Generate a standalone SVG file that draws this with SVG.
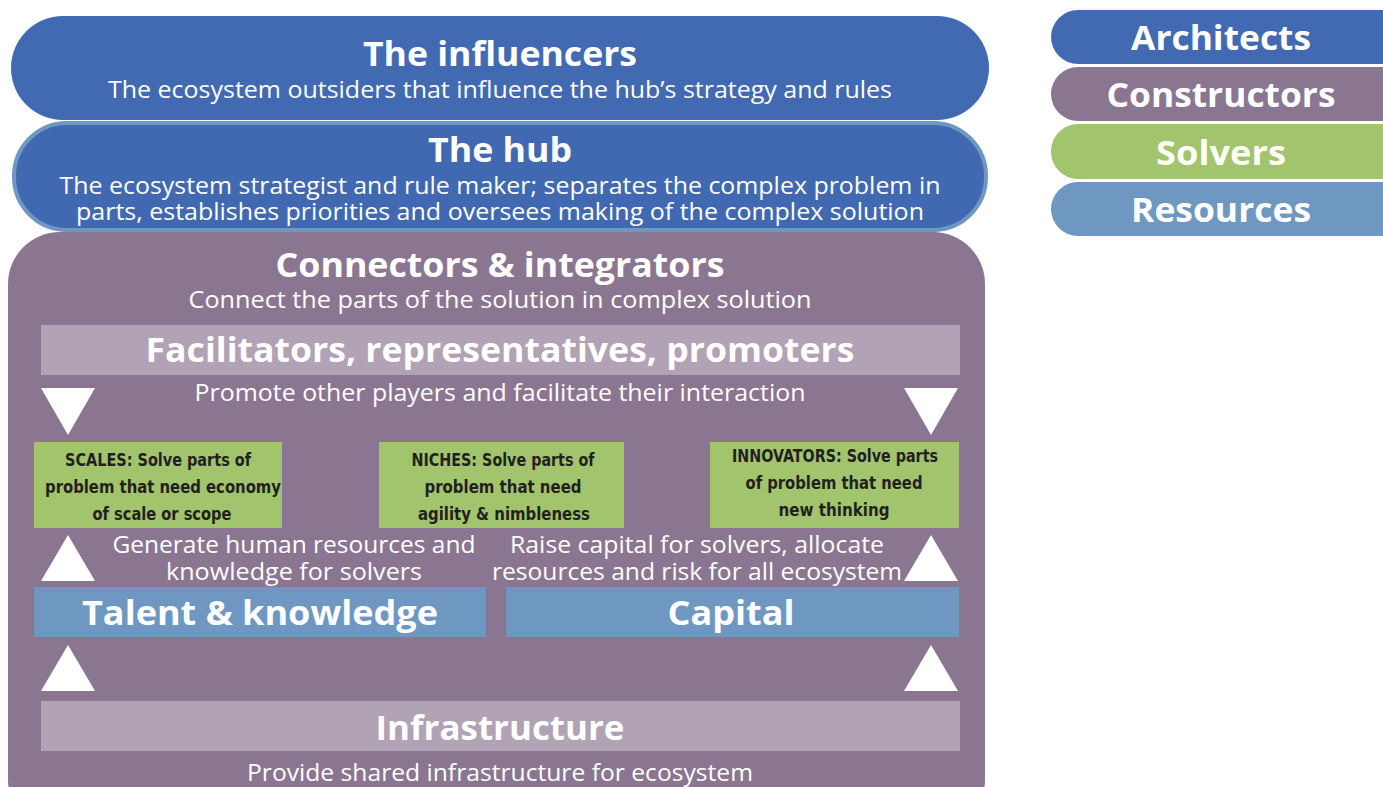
<svg xmlns="http://www.w3.org/2000/svg" width="1383" height="787" viewBox="0 0 1383 787">
<style>
.t{font-family:"Open Sans","Liberation Sans",sans-serif;font-weight:bold;font-size:34px;fill:#fff;text-anchor:middle}
.s{font-family:"Open Sans","Liberation Sans",sans-serif;font-size:23px;fill:#fff;text-anchor:middle}
.g{font-family:"Liberation Sans Narrow","DejaVu Sans Condensed","Liberation Sans",sans-serif;font-weight:bold;font-size:18px;fill:#231f20;text-anchor:middle}
.tri{fill:#fff}
.green{fill:#a1c46d}
.res{fill:#6e97c2}
.lp{fill:#b1a2b5}
</style>
<rect width="1383" height="787" fill="#fff"/>
<g id="constructors-area">
<rect x="8" y="232" width="977" height="600" rx="52" fill="#8b7691"/>
</g>
<g id="influencers">
<rect x="11" y="16" width="978" height="104" rx="52" fill="#426ab3"/>
<text class="t" x="500" y="66" textLength="274" lengthAdjust="spacingAndGlyphs">The influencers</text>
<text class="s" x="500" y="98" textLength="784" lengthAdjust="spacingAndGlyphs">The ecosystem outsiders that influence the hub’s strategy and rules</text>
</g>
<g id="hub">
<rect x="14" y="123" width="972" height="107" rx="53" fill="#4169b2" stroke="#6e97c2" stroke-width="4"/>
<text class="t" x="500" y="162" textLength="144" lengthAdjust="spacingAndGlyphs">The hub</text>
<text class="s" x="500" y="194" textLength="881" lengthAdjust="spacingAndGlyphs">The ecosystem strategist and rule maker; separates the complex problem in</text>
<text class="s" x="500" y="220" textLength="848" lengthAdjust="spacingAndGlyphs">parts, establishes priorities and oversees making of the complex solution</text>
</g>
<g id="connectors-integrators">
<text class="t" x="500" y="277" textLength="449" lengthAdjust="spacingAndGlyphs">Connectors &amp; integrators</text>
<text class="s" x="500" y="308" textLength="623" lengthAdjust="spacingAndGlyphs">Connect the parts of the solution in complex solution</text>
</g>
<g id="facilitators">
<rect class="lp" x="41" y="325" width="919" height="50"/>
<text class="t" x="500" y="362" textLength="709" lengthAdjust="spacingAndGlyphs">Facilitators, representatives, promoters</text>
<text class="s" x="500" y="401" textLength="611" lengthAdjust="spacingAndGlyphs">Promote other players and facilitate their interaction</text>
</g>
<g id="scales">
<rect class="green" x="34" y="442" width="248" height="86"/>
<text class="g" x="158" y="466" textLength="186" lengthAdjust="spacingAndGlyphs">SCALES: Solve  parts of</text>
<text class="g" x="163" y="493" textLength="236" lengthAdjust="spacingAndGlyphs">problem that need economy</text>
<text class="g" x="162" y="520" textLength="139" lengthAdjust="spacingAndGlyphs">of scale or  scope</text>
</g>
<g id="niches">
<rect class="green" x="379" y="442" width="245" height="86"/>
<text class="g" x="503" y="466" textLength="183" lengthAdjust="spacingAndGlyphs">NICHES: Solve parts of</text>
<text class="g" x="503" y="493" textLength="157" lengthAdjust="spacingAndGlyphs">problem that need</text>
<text class="g" x="504" y="520" textLength="172" lengthAdjust="spacingAndGlyphs">agility &amp; nimbleness</text>
</g>
<g id="innovators">
<rect class="green" x="710" y="442" width="249" height="86"/>
<text class="g" x="835" y="462" textLength="206" lengthAdjust="spacingAndGlyphs">INNOVATORS: Solve parts</text>
<text class="g" x="834" y="489" textLength="177" lengthAdjust="spacingAndGlyphs">of problem that need</text>
<text class="g" x="834" y="516" textLength="111" lengthAdjust="spacingAndGlyphs">new thinking</text>
</g>
<g id="talent">
<text class="s" x="294" y="553" textLength="363" lengthAdjust="spacingAndGlyphs">Generate human resources and</text>
<text class="s" x="294" y="580" textLength="256" lengthAdjust="spacingAndGlyphs">knowledge for solvers</text>
<rect class="res" x="34" y="587" width="452" height="50"/>
<text class="t" x="260" y="625" textLength="356" lengthAdjust="spacingAndGlyphs">Talent &amp; knowledge</text>
</g>
<g id="capital">
<text class="s" x="697" y="553" textLength="374" lengthAdjust="spacingAndGlyphs">Raise capital for solvers, allocate</text>
<text class="s" x="697" y="580" textLength="410" lengthAdjust="spacingAndGlyphs">resources and risk for all ecosystem</text>
<rect class="res" x="506" y="587" width="453" height="50"/>
<text class="t" x="731" y="625" textLength="127" lengthAdjust="spacingAndGlyphs">Capital</text>
</g>
<g id="infrastructure">
<rect class="lp" x="41" y="701" width="919" height="50"/>
<text class="t" x="500" y="740" textLength="249" lengthAdjust="spacingAndGlyphs">Infrastructure</text>
<text class="s" x="500" y="781" textLength="506" lengthAdjust="spacingAndGlyphs">Provide shared infrastructure for ecosystem</text>
</g>
<g id="connectors">
<polygon class="tri" points="41,388 95,388 68,435"/>
<polygon class="tri" points="904,388 958,388 931,435"/>
<polygon class="tri" points="41,581 95,581 68,535"/>
<polygon class="tri" points="904,581 958,581 931,535"/>
<polygon class="tri" points="41,691 95,691 68,645"/>
<polygon class="tri" points="904,691 958,691 931,645"/>
</g>
<g id="legend-architects">
<rect x="1051" y="10" width="360" height="54" rx="27" fill="#426ab3"/>
<text class="t" x="1221" y="50" textLength="180" lengthAdjust="spacingAndGlyphs">Architects</text>
</g>
<g id="legend-constructors">
<rect x="1051" y="67" width="360" height="54" rx="27" fill="#8b7691"/>
<text class="t" x="1221" y="107" textLength="229" lengthAdjust="spacingAndGlyphs">Constructors</text>
</g>
<g id="legend-solvers">
<rect x="1051" y="124" width="360" height="55" rx="27" fill="#a1c46d"/>
<text class="t" x="1221" y="165" textLength="130" lengthAdjust="spacingAndGlyphs">Solvers</text>
</g>
<g id="legend-resources">
<rect x="1051" y="182" width="360" height="54" rx="27" fill="#6e97c2"/>
<text class="t" x="1221" y="222" textLength="180" lengthAdjust="spacingAndGlyphs">Resources</text>
</g>
</svg>
